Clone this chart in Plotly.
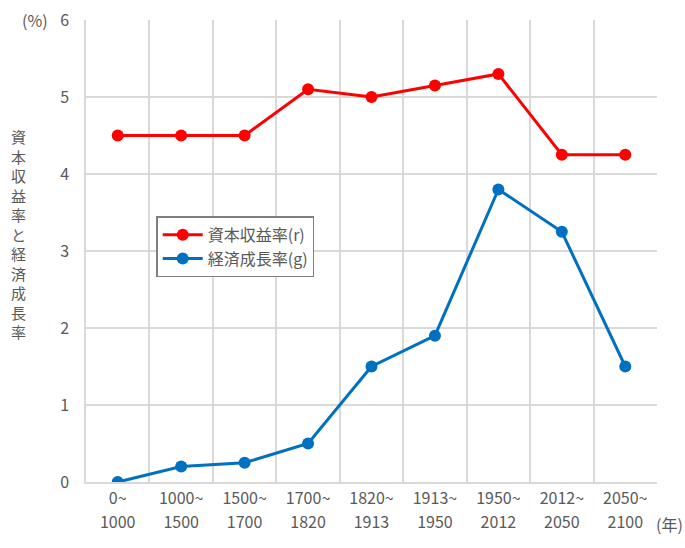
import plotly.graph_objects as go

period_start = ["0~", "1000~", "1500~", "1700~", "1820~", "1913~", "1950~", "2012~", "2050~"]
period_end = ["1000", "1500", "1700", "1820", "1913", "1950", "2012", "2050", "2100"]
r_values = [4.5, 4.5, 4.5, 5.1, 5.0, 5.15, 5.3, 4.25, 4.25]
g_values = [0.0, 0.2, 0.25, 0.5, 1.5, 1.9, 3.8, 3.25, 1.5]
r_name = "資本収益率(r)"
g_name = "経済成長率(g)"
y_title = "資本収益率と経済成長率"

xpos = list(range(len(period_start)))
FONT = "Noto Sans CJK JP"
GRAY = "#595959"
GRID = "#d9d9d9"

fig = go.Figure()
fig.add_trace(go.Scatter(x=xpos, y=r_values, name=r_name, mode="lines+markers",
                         line=dict(color="#ff0000", width=3), marker=dict(size=12, color="#ff0000")))
fig.add_trace(go.Scatter(x=xpos, y=g_values, name=g_name, mode="lines+markers",
                         line=dict(color="#0070c0", width=3), marker=dict(size=12, color="#0070c0")))
# carrier for the second row of period labels
fig.add_trace(go.Scatter(x=xpos, y=[None] * len(xpos), xaxis="x2", mode="markers",
                         showlegend=False, hoverinfo="skip"))

xr = [-0.5, len(xpos) - 0.5]
fig.update_layout(
    width=685, height=548,
    margin=dict(l=86, r=28, t=20, b=66),
    plot_bgcolor="white", paper_bgcolor="white",
    font=dict(family=FONT, size=16, color=GRAY),
    showlegend=True,
    legend=dict(x=0.123, y=0.575, xanchor="left", yanchor="top",
                bordercolor="#7f7f7f", borderwidth=1.5, bgcolor="white",
                font=dict(size=16, color=GRAY), tracegroupgap=8, itemwidth=40),
    xaxis=dict(range=xr, tickvals=xpos, ticktext=period_start,
               showgrid=False, zeroline=False, showline=True, linecolor=GRID, linewidth=1.5,
               ticks="outside", ticklen=1, tickcolor="rgba(0,0,0,0)", automargin=False,
               minor=dict(tick0=-0.5, dtick=1, showgrid=True, gridcolor=GRID, gridwidth=1.5),
               tickfont=dict(size=16, color=GRAY), fixedrange=True),
    xaxis2=dict(range=xr, tickvals=xpos, ticktext=period_end, overlaying="x", side="bottom",
                anchor="y", showgrid=False, zeroline=False, showline=False,
                ticks="outside", ticklen=26, tickcolor="rgba(0,0,0,0)", automargin=False,
                tickfont=dict(size=16, color=GRAY), fixedrange=True),
    yaxis=dict(range=[0, 6], tickvals=[0, 1, 2, 3, 4, 5, 6], showgrid=True, gridcolor=GRID,
               gridwidth=1.5, zeroline=False, showline=True, linecolor=GRID, linewidth=1.5,
               ticks="outside", ticklen=12, tickcolor="rgba(0,0,0,0)", automargin=False,
               tickfont=dict(size=16, color=GRAY)),
)

# vertical y-axis title, stacked one character per line
fig.add_annotation(text="<br>".join(list(y_title)), xref="paper", yref="paper",
                   x=(18 - 86) / 571, y=(482 - 234) / 462,
                   xanchor="center", yanchor="middle", showarrow=False,
                   font=dict(size=15, color=GRAY, family=FONT))
fig.add_annotation(text="(%)", xref="paper", yref="paper", x=-0.063, y=1.0,
                   xanchor="right", yanchor="middle", showarrow=False,
                   font=dict(size=16, color=GRAY, family=FONT))
fig.add_annotation(text="(年)", xref="paper", yref="paper", x=0.994, y=-0.09,
                   xanchor="left", yanchor="middle", showarrow=False,
                   font=dict(size=16, color=GRAY, family=FONT))

fig.write_html("out.html")
